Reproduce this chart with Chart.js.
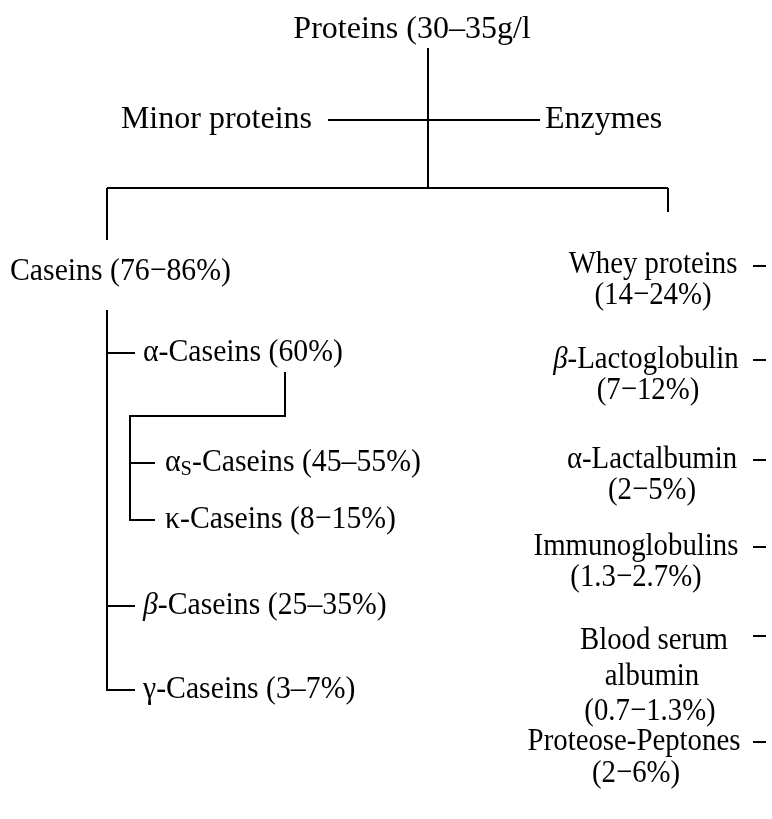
<!DOCTYPE html>
<html>
<head>
<meta charset="utf-8">
<script src="https://cdn.jsdelivr.net/npm/chart.js@4"></script>
<style>
  html, body { margin: 0; padding: 0; background: #fff; }
  #wrap { width: 772px; height: 819px; }
</style>
</head>
<body>
<div id="wrap"><canvas id="tree" width="772" height="819"></canvas></div>
<script>
// Labels of the tree, one entry per text line
const labels = [
  'Proteins (30–35g/l',
  'Minor proteins', 'Enzymes',
  'Caseins (76−86%)',
  'α-Caseins (60%)', 'α_S-Caseins (45–55%)', 'κ-Caseins (8−15%)',
  'β-Caseins (25–35%)', 'γ-Caseins (3–7%)',
  'Whey proteins', '(14−24%)',
  'β-Lactoglobulin', '(7−12%)',
  'α-Lactalbumin', '(2−5%)',
  'Immunoglobulins', '(1.3−2.7%)',
  'Blood serum', 'albumin', '(0.7−1.3%)',
  'Proteose-Peptones', '(2−6%)'
];
const labelX = [412, 312, 545, 10, 143, 165, 165, 143, 143,
  653, 653, 646, 648, 652, 652, 636, 636, 654, 652, 650, 634, 636];
const labelY = [30, 120, 120, 272, 353, 463, 520, 606, 690,
  265, 296, 360, 391, 460, 491, 547, 578, 641, 677, 712, 742, 774];
const labelAlign = ['center', 'right', 'left', 'left', 'left', 'left', 'left', 'left', 'left',
  'center', 'center', 'center', 'center', 'center', 'center', 'center', 'center',
  'center', 'center', 'center', 'center', 'center'];

// Connector polylines: x values and y values
const linkX = [
  [428, 428], [328, 540], [107, 668], [107, 107], [668, 668],
  [107, 107, 135], [107, 135], [107, 135],
  [285, 285, 130, 130, 155], [130, 155],
  [753, 766], [753, 766], [753, 766], [753, 766], [753, 766], [753, 766]
];
const linkY = [
  [48, 188], [120, 120], [188, 188], [188, 240], [188, 212],
  [310, 690, 690], [353, 353], [606, 606],
  [372, 416, 416, 520, 520], [463, 463],
  [266, 266], [360, 360], [460, 460], [547, 547], [636, 636], [742, 742]
];

const FONT = '"Liberation Serif", "Times New Roman", serif';
const SIZE = 32;

// the original type gets a bit more condensed further down the tree
function squeezeFor(k) {
  if (k <= 2) return 1;
  if (k <= 8) return 0.93;
  return 0.9;
}

// split a label into runs: β in italics, _S as subscript
function runs(text) {
  const out = [];
  let i = 0;
  while (i < text.length) {
    if (text[i] === 'β') { out.push({ t: 'β', style: 'italic' }); i++; continue; }
    if (text[i] === '_') { out.push({ t: text[i + 1], style: 'sub' }); i += 2; continue; }
    let j = i;
    while (j < text.length && text[j] !== 'β' && text[j] !== '_') j++;
    out.push({ t: text.slice(i, j), style: 'normal' });
    i = j;
  }
  return out;
}

function setFont(ctx, style, size) {
  if (style === 'italic') ctx.font = 'italic ' + size + 'px ' + FONT;
  else if (style === 'sub') ctx.font = Math.round(size * 0.7) + 'px ' + FONT;
  else ctx.font = size + 'px ' + FONT;
}

const labelPlugin = {
  id: 'treeLabels',
  afterDatasetsDraw(chart) {
    const ctx = chart.ctx;
    const xs = chart.scales.x, ys = chart.scales.y;
    ctx.save();
    ctx.fillStyle = '#000';
    ctx.textBaseline = 'middle';
    ctx.textAlign = 'left';
    labels.forEach((lab, k) => {
      const sq = squeezeFor(k);
      const parts = runs(lab);
      let w = 0;
      parts.forEach(p => { setFont(ctx, p.style, SIZE); p.w = ctx.measureText(p.t).width; w += p.w; });
      let x = xs.getPixelForValue(labelX[k]);
      const y = ys.getPixelForValue(labelY[k]);
      if (labelAlign[k] === 'center') x -= w * sq / 2;
      else if (labelAlign[k] === 'right') x -= w * sq;
      ctx.save();
      ctx.translate(x, y);
      ctx.scale(sq, 1);
      let cx = 0;
      parts.forEach(p => {
        setFont(ctx, p.style, SIZE);
        ctx.fillText(p.t, cx, p.style === 'sub' ? SIZE * 0.2 : 0);
        cx += p.w;
      });
      ctx.restore();
    });
    ctx.restore();
  }
};

const datasets = linkX.map((xsArr, i) => ({
  data: xsArr.map((x, j) => ({ x: x, y: linkY[i][j] })),
  showLine: true,
  borderColor: '#000',
  borderWidth: 2,
  pointRadius: 0,
  fill: false,
  tension: 0
}));

new Chart(document.getElementById('tree'), {
  type: 'scatter',
  data: { datasets: datasets },
  options: {
    responsive: false,
    animation: false,
    layout: { padding: 0 },
    plugins: { legend: { display: false }, tooltip: { enabled: false } },
    scales: {
      x: { type: 'linear', min: 0, max: 772, display: false },
      y: { type: 'linear', min: 0, max: 819, reverse: true, display: false }
    }
  },
  plugins: [labelPlugin]
});
</script>
</body>
</html>
